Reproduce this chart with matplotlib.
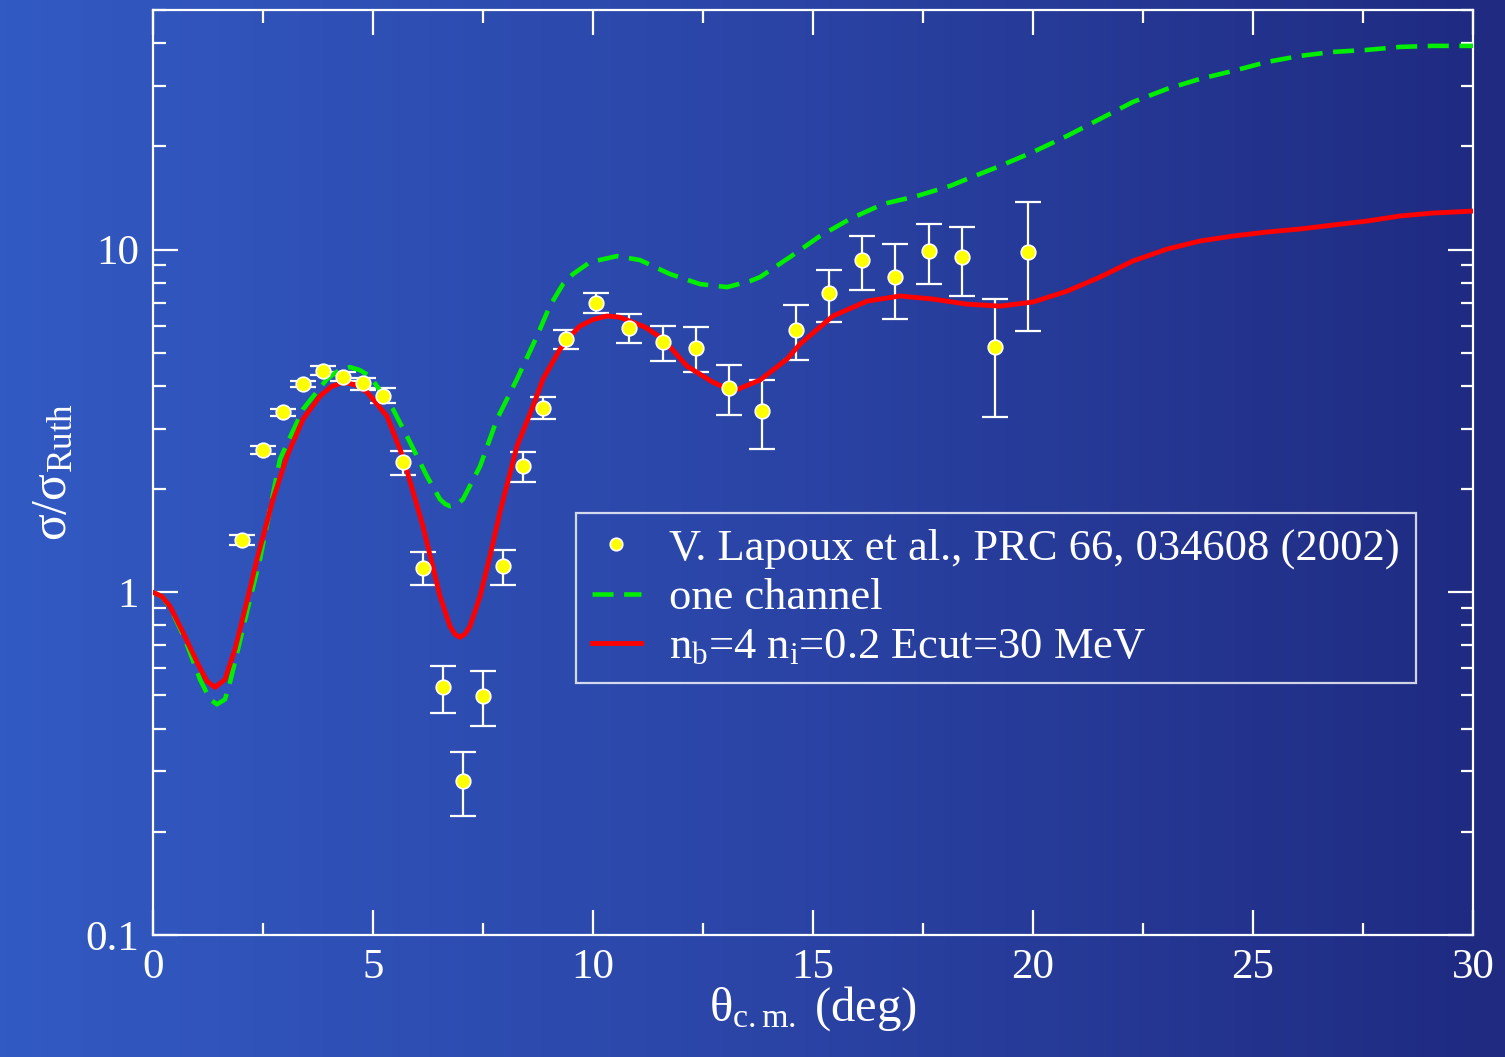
import numpy as np
import matplotlib
matplotlib.use("Agg")
import matplotlib.pyplot as plt
from matplotlib.colors import LinearSegmentedColormap

plt.rcParams["font.family"] = ["Liberation Serif", "DejaVu Serif"]
plt.rcParams["mathtext.fontset"] = "custom"
plt.rcParams["mathtext.rm"] = "Liberation Serif"
plt.rcParams["mathtext.it"] = "Liberation Serif:italic"

# experimental data (Lapoux et al.)
theta_exp = [2.02, 2.50, 2.95, 3.41, 3.86, 4.32, 4.77, 5.23, 5.68, 6.14, 6.59, 7.05,
             7.50, 7.95, 8.41, 8.86, 9.39, 10.07, 10.82, 11.59, 12.34, 13.09, 13.84,
             14.61, 15.36, 16.11, 16.86, 17.64, 18.39, 19.14, 19.89]
sig_exp = [1.418, 2.598, 3.354, 4.05, 4.42, 4.24, 4.08, 3.73, 2.40, 1.175, 0.528, 0.281,
           0.497, 1.191, 2.33, 3.44, 5.48, 6.98, 5.90, 5.37, 5.16, 3.94, 3.38,
           5.82, 7.46, 9.32, 8.31, 9.90, 9.51, 5.19, 9.83]
sig_hi = [1.467, 2.669, 3.42, 4.13, 4.57, 4.39, 4.22, 3.94, 2.58, 1.309, 0.608, 0.341,
          0.588, 1.326, 2.56, 3.71, 5.82, 7.46, 6.48, 5.98, 5.94, 4.60, 4.16,
          6.89, 8.71, 10.95, 10.38, 11.87, 11.63, 7.17, 13.76]
sig_lo = [1.371, 2.528, 3.265, 3.97, 4.30, 4.13, 3.89, 3.56, 2.20, 1.048, 0.443, 0.222,
          0.406, 1.048, 2.10, 3.20, 5.12, 6.53, 5.33, 4.73, 4.39, 3.29, 2.62,
          4.76, 6.14, 7.62, 6.27, 7.93, 7.32, 3.24, 5.78]

# one channel calculation
theta_one = [0.0, 0.2, 0.386, 0.727, 1.068, 1.295, 1.455, 1.636, 1.75, 1.932, 2.205, 2.432,
             2.886, 3.409, 3.955, 4.2, 4.477, 4.7, 4.932, 5.455, 5.841, 6.227, 6.523,
             6.64, 6.75, 6.9, 7.045, 7.432, 7.818, 8.273, 8.727, 9.02, 9.318, 9.545,
             9.932, 10.545, 11.068, 11.75, 12.432, 13.045, 13.568, 13.795, 14.477,
             15.159, 15.841, 16.591, 17.364, 18.114, 18.5, 19.25, 20.0, 20.773, 21.523,
             22.273, 23.045, 23.795, 24.545, 25.318, 26.068, 26.818, 27.591, 28.341,
             29.091, 30.0]
sig_one = [1.0, 0.973, 0.904, 0.729, 0.557, 0.487, 0.471, 0.487, 0.546, 0.682, 0.954, 1.248,
           2.445, 3.42, 4.19, 4.42, 4.54, 4.45, 4.27, 3.42, 2.74, 2.18, 1.868,
           1.81, 1.783, 1.80, 1.868, 2.33, 3.20, 4.19, 5.59, 6.85, 7.93, 8.48,
           9.19, 9.57, 9.32, 8.48, 7.93, 7.77, 8.09, 8.31, 9.51,
           10.95, 12.28, 13.58, 14.33, 15.33, 16.06, 17.53, 19.26, 21.45, 24.05,
           26.96, 29.42, 31.47, 33.20, 35.27, 36.73, 37.73, 38.24, 39.02,
           39.29, 39.29]

# coupled channels calculation
theta_cc = [0.0, 0.2, 0.386, 0.682, 1.0, 1.227, 1.409, 1.636, 1.864, 2.091, 2.364, 2.727,
            3.045, 3.409, 3.795, 4.05, 4.318, 4.6, 4.864, 5.318, 5.682, 6.136, 6.523,
            6.75, 6.86, 6.977, 7.09, 7.205, 7.432, 7.659, 7.886, 8.273, 8.636, 8.864,
            9.25, 9.48, 9.705, 10.0, 10.318, 10.6, 10.841, 11.182, 11.591, 12.136,
            12.727, 13.182, 13.795, 14.409, 14.705, 15.455, 16.227, 16.977, 17.727,
            18.5, 19.25, 20.0, 20.773, 21.523, 22.273, 23.045, 23.795, 24.545, 25.318,
            26.068, 26.818, 27.591, 28.341, 29.091, 30.0]
sig_cc = [1.0, 0.973, 0.910, 0.764, 0.625, 0.550, 0.528, 0.557, 0.682, 0.892, 1.248, 1.868,
          2.495, 3.20, 3.735, 3.98, 4.10, 4.03, 3.84, 3.265, 2.48, 1.558, 0.973,
          0.796, 0.755, 0.739, 0.755, 0.796, 0.973, 1.274, 1.713, 2.669, 3.49, 4.19,
          5.12, 5.59, 5.98, 6.25, 6.40, 6.35, 6.18, 5.94, 5.48, 4.57,
          4.10, 3.86, 4.16, 4.79, 5.30, 6.40, 7.07, 7.32, 7.17,
          6.93, 6.84, 7.03, 7.56, 8.31, 9.26, 10.03, 10.59, 10.95, 11.25,
          11.48, 11.79, 12.11, 12.53, 12.78, 12.95]

fig = plt.figure(figsize=(15.05, 10.57), dpi=100)

# gradient background
bg = fig.add_axes([0, 0, 1, 1], zorder=-10)
cmap = LinearSegmentedColormap.from_list("bg", ["#325ac3", "#2b45a7", "#1f2a80"])
bg.imshow(np.linspace(0, 1, 256)[None, :], aspect="auto", cmap=cmap,
          extent=[0, 1, 0, 1])
bg.axis("off")

ax = fig.add_axes([153 / 1505, 1 - 935 / 1057, 1320 / 1505, 925 / 1057])
ax.set_facecolor("none")

ax.errorbar(theta_exp, sig_exp,
            yerr=[np.array(sig_exp) - np.array(sig_lo), np.array(sig_hi) - np.array(sig_exp)],
            fmt="none", ecolor="white", elinewidth=1.6, capsize=9.5, capthick=1.6, zorder=2)
ax.plot(theta_one, sig_one, color="#00ee00", lw=3.3, dashes=(4.6, 2.3), zorder=3,
        label="one channel")
ax.plot(theta_cc, sig_cc, color="#ff0000", lw=3.5, zorder=4,
        label="n$_\\mathrm{b}$=4 n$_\\mathrm{i}$=0.2 Ecut=30 MeV")
ax.plot(theta_exp, sig_exp, "o", ms=10.5, mfc="#ffff00", mec="white", mew=1.2, zorder=5,
        label="V. Lapoux et al., PRC 66, 034608 (2002)")

ax.set_yscale("log")
ax.set_xlim(0, 30)
ax.set_ylim(0.1, 50)
ax.set_xticks([0, 5, 10, 15, 20, 25, 30])
ax.set_xticks(np.arange(2.5, 30, 5), minor=True)
ax.set_yticks([0.1, 1, 10])
ax.set_yticklabels(["0.1", "1", "10"])
ax.yaxis.set_minor_locator(matplotlib.ticker.LogLocator(base=10, subs=np.arange(2, 10)))
ax.yaxis.set_minor_formatter(matplotlib.ticker.NullFormatter())

for s in ax.spines.values():
    s.set_color("white")
    s.set_linewidth(1.6)
ax.tick_params(which="both", direction="in", top=True, right=True, colors="white",
               width=1.6, labelsize=31, labelcolor="white")
ax.tick_params(which="major", length=18, pad=10)
ax.tick_params(which="minor", length=9)

ax.set_xlabel("θ$_\\mathrm{c.m.}$ (deg)", fontsize=35, color="white", labelpad=-2)
ax.set_ylabel("σ/σ$_\\mathrm{Ruth}$", fontsize=36, color="white", labelpad=6)

h, l = ax.get_legend_handles_labels()
leg = ax.legend([h[2], h[0], h[1]], [l[2], l[0], l[1]], loc="upper left",
                bbox_to_anchor=(0.3205, 0.456), fontsize=32, frameon=True,
                fancybox=False, edgecolor="white", facecolor="none",
                handlelength=1.1, handletextpad=0.65, borderpad=0.35, labelspacing=0.2,
                borderaxespad=0)
leg.get_frame().set_linewidth(1.6)
for t in leg.get_texts():
    t.set_color("white")
leg.legend_handles[0].set_markersize(9)

fig.savefig("out.png", dpi=100)
